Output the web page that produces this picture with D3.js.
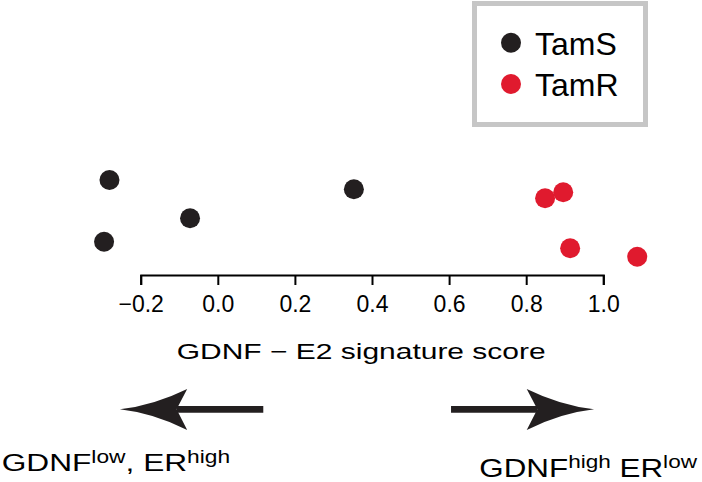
<!DOCTYPE html>
<html><head><meta charset="utf-8">
<script src="https://cdn.jsdelivr.net/npm/d3@7"></script>
<style>html,body{margin:0;padding:0;background:#fff;}svg{display:block;}</style>
</head><body>
<svg id="c" width="702" height="482"></svg>
<script>
// ---- data ----
const groups = ["TamS", "TamR"];
const groupColors = ["#231f20", "#e01a2e"];
const tamsScore = [-0.281, -0.295, -0.072, 0.353];
const tamsJitter = [0.85, 0.233, 0.467, 0.757];
const tamrScore = [0.849, 0.896, 0.914, 1.088];
const tamrJitter = [0.667, 0.727, 0.167, 0.083];
const xTicks = [-0.2, 0.0, 0.2, 0.4, 0.6, 0.8, 1.0];
const xTitle = "GDNF \u2212 E2 signature score";
// arrows: [from, to] in score units
const arrowLeft = [0.118, -0.254];
const arrowRight = [0.605, 0.976];

const svg = d3.select("#c");
const font = "'Liberation Sans', Arial, sans-serif";

const x = d3.scaleLinear().domain([-0.2, 1.0]).range([140.7, 603.3]);
const y = d3.scaleLinear().domain([0, 1]).range([265, 165]);
const color = d3.scaleOrdinal().domain(groups).range(groupColors);

const points = tamsScore.map((s, i) => ({g: "TamS", s, j: tamsJitter[i]}))
  .concat(tamrScore.map((s, i) => ({g: "TamR", s, j: tamrJitter[i]})));

svg.selectAll("circle.pt").data(points).join("circle")
  .attr("class", "pt")
  .attr("cx", d => x(d.s)).attr("cy", d => y(d.j)).attr("r", 10)
  .attr("fill", d => color(d.g));

// axis
const axis = svg.append("g").attr("transform", "translate(0,275)")
  .call(d3.axisBottom(x).tickValues(xTicks).tickSize(10).tickSizeOuter(10).tickPadding(10.4)
    .tickFormat(d => d3.format(".1f")(d).replace("-", "\u2212")));
axis.selectAll("path,line").attr("stroke", "#000").attr("stroke-width", 2);
axis.selectAll("text").attr("font-family", font).attr("font-size", 23).attr("fill", "#000");

// fit helper
function fitText(sel, x0, base, width) {
  const bb = sel.node().getBBox();
  const sx = width / bb.width;
  sel.attr("transform", `translate(${x0 - bb.x * sx},${base}) scale(${sx},1)`);
}

const title = svg.append("text").attr("x", 0).attr("y", 0)
  .attr("font-family", font).attr("font-size", 22.4).attr("fill", "#000").text(xTitle);
fitText(title, 176.7, 359.3, 369);

// legend
svg.append("rect").attr("x", 474.5).attr("y", 3.5).attr("width", 171).attr("height", 121)
  .attr("fill", "#fff").attr("stroke", "#c6c6c6").attr("stroke-width", 5);
const leg = svg.selectAll("g.leg").data(groups).join("g").attr("class", "leg")
  .attr("transform", (d, i) => `translate(511,${42.7 + i * 41.3})`);
leg.append("circle").attr("r", 10).attr("fill", d => color(d));
leg.append("text").attr("x", 24).attr("y", 12).attr("font-family", font)
  .attr("font-size", 32).attr("fill", "#000").text(d => d);

// arrows
function arrow(a) {
  const x0 = x(a[0]), x1 = x(a[1]);
  const dir = Math.sign(x1 - x0);
  const yy = 409.3;
  const bx = x1 - dir * 67.3, nx = x1 - dir * 56.7;
  const cx = x1 - dir * 33.7;
  svg.append("line").attr("x1", x0).attr("x2", nx).attr("y1", yy).attr("y2", yy)
    .attr("stroke", "#231f20").attr("stroke-width", 6.7);
  svg.append("path")
    .attr("d", `M${x1},${yy} Q${cx},${yy - 3.8} ${bx},${yy - 20.3} L${nx},${yy} L${bx},${yy + 20.7} Q${cx},${yy + 3.8} ${x1},${yy} Z`)
    .attr("fill", "#231f20");
}
arrow(arrowLeft);
arrow(arrowRight);

// bottom labels with superscripts
function supLabel(parts, x0, base, width, size) {
  const t = svg.append("text").attr("font-family", font).attr("font-size", size).attr("fill", "#000");
  parts.forEach(p => {
    t.append("tspan").attr("font-size", p[1] ? size * 0.72 : size)
      .attr("dy", p[1] === 1 ? -size * 0.36 : (p[1] === 0 && p.prev ? 0 : 0))
      .text(p[0]);
  });
  // reset baseline shifts using explicit y
  t.selectAll("tspan").each(function(d, i) {
    const p = parts[i];
    d3.select(this).attr("dy", null).attr("y", p[1] ? -size * 0.33 : 0);
  });
  fitText(t, x0, base, width);
}
supLabel([["GDNF", 0], ["low", 1], [", ER", 0], ["high", 1]], 1.7, 471, 228.5, 24.5);
supLabel([["GDNF", 0], ["high", 1], [" ER", 0], ["low", 1]], 479.3, 476.5, 219, 25);
</script>
</body></html>
